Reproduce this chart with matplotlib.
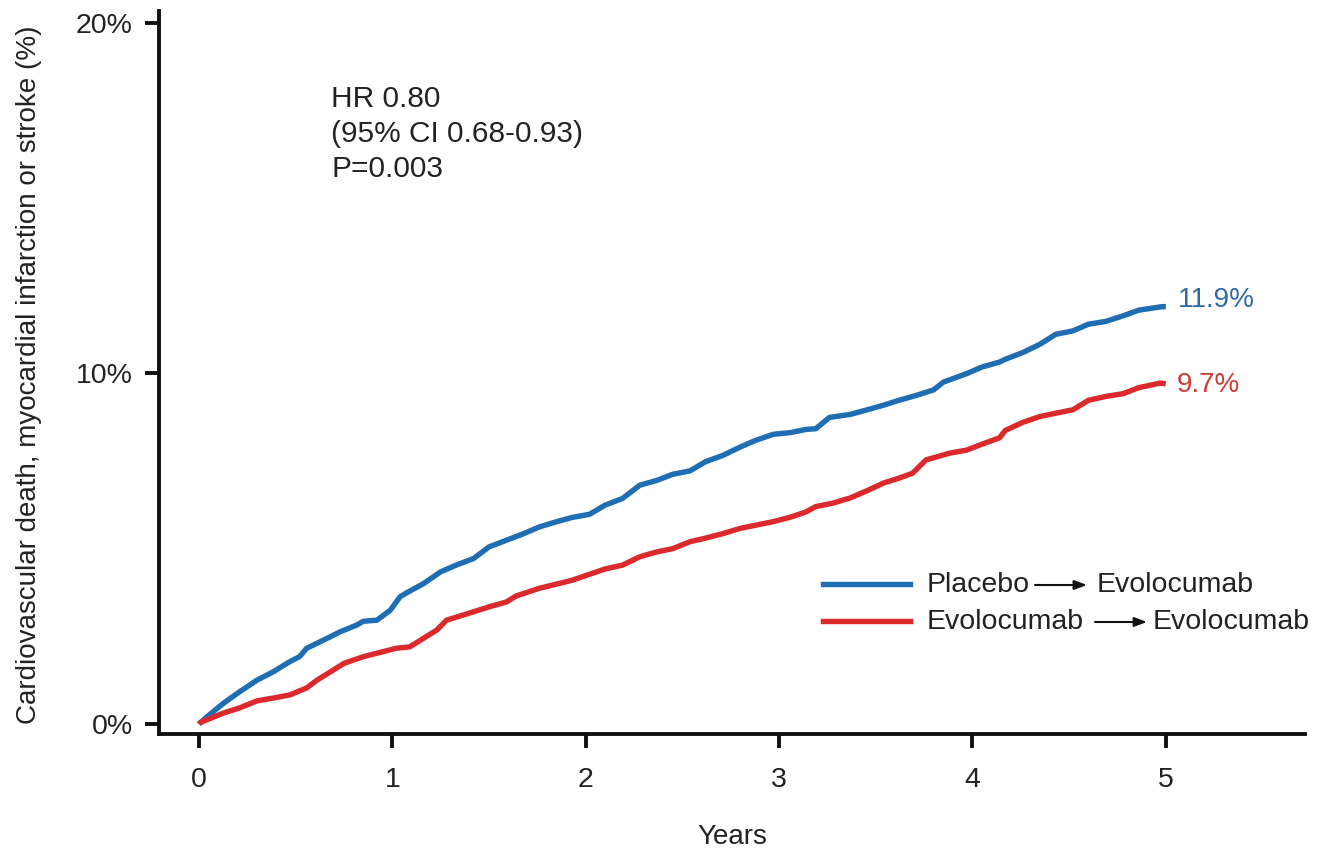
import matplotlib
matplotlib.use("Agg")
import matplotlib.pyplot as plt
from matplotlib.lines import Line2D

plt.rcParams['font.family'] = ['Liberation Sans', 'DejaVu Sans']

# Cumulative incidence (%) by follow-up year
placebo_years = [0.0, 0.04, 0.126, 0.21, 0.30, 0.384, 0.47, 0.52, 0.557, 0.643, 0.73, 0.815, 0.85,
                 0.92, 0.99, 1.04, 1.08, 1.16, 1.25, 1.33, 1.42, 1.50, 1.59, 1.68, 1.76, 1.85,
                 1.93, 2.02, 2.10, 2.19, 2.28, 2.37, 2.45, 2.54, 2.62, 2.71, 2.80, 2.88, 2.97,
                 3.06, 3.14, 3.19, 3.26, 3.37, 3.45, 3.54, 3.62, 3.71, 3.80, 3.85, 3.97, 4.05,
                 4.14, 4.17, 4.26, 4.35, 4.43, 4.52, 4.60, 4.69, 4.78, 4.86, 4.98, 5.0]
placebo_pct = [0.0, 0.2, 0.59, 0.92, 1.25, 1.49, 1.78, 1.92, 2.16, 2.39, 2.63, 2.82, 2.93,
               2.96, 3.25, 3.63, 3.76, 4.0, 4.34, 4.53, 4.72, 5.05, 5.24, 5.43, 5.62, 5.77,
               5.89, 5.98, 6.24, 6.43, 6.81, 6.95, 7.12, 7.22, 7.48, 7.66, 7.9, 8.09, 8.26,
               8.31, 8.4, 8.42, 8.74, 8.83, 8.95, 9.09, 9.23, 9.37, 9.53, 9.75, 9.99, 10.18,
               10.32, 10.4, 10.59, 10.83, 11.11, 11.21, 11.4, 11.48, 11.64, 11.8, 11.9, 11.9]

evolo_years = [0.0, 0.005, 0.125, 0.21, 0.30, 0.384, 0.47, 0.557, 0.61, 0.695, 0.75, 0.85, 0.95,
               1.02, 1.09, 1.16, 1.23, 1.28, 1.42, 1.50, 1.59, 1.64, 1.76, 1.85, 1.93, 2.02,
               2.10, 2.19, 2.28, 2.37, 2.45, 2.54, 2.62, 2.71, 2.80, 2.88, 2.97, 3.06, 3.14,
               3.19, 3.28, 3.37, 3.45, 3.54, 3.62, 3.69, 3.76, 3.88, 3.97, 4.05, 4.14, 4.17,
               4.26, 4.35, 4.43, 4.52, 4.60, 4.69, 4.78, 4.86, 4.97, 5.0]
evolo_pct = [0.0, 0.04, 0.31, 0.46, 0.66, 0.74, 0.83, 1.03, 1.25, 1.54, 1.73, 1.92, 2.06,
             2.16, 2.2, 2.44, 2.68, 2.96, 3.2, 3.34, 3.48, 3.65, 3.87, 3.99, 4.1, 4.27,
             4.42, 4.53, 4.77, 4.91, 5.0, 5.2, 5.3, 5.43, 5.58, 5.67, 5.77, 5.9, 6.05,
             6.2, 6.3, 6.45, 6.64, 6.87, 7.01, 7.15, 7.53, 7.72, 7.81, 7.98, 8.16, 8.37,
             8.6, 8.77, 8.86, 8.96, 9.23, 9.34, 9.42, 9.59, 9.72, 9.7]

final_labels = ["11.9%", "9.7%"]
final_values = [11.9, 9.7]
x_ticks = [0, 1, 2, 3, 4, 5]
y_ticks = [0, 10, 20]
y_ticklabels = ["0%", "10%", "20%"]
stats_lines = ["HR 0.80", "(95% CI 0.68-0.93)", "P=0.003"]

BLUE = "#1f6db3"
RED = "#dc2a2c"
TEXT = "#222222"
W, H = 1319, 851

fig = plt.figure(figsize=(W / 100, H / 100), dpi=100)
ax = fig.add_axes([159 / W, 1 - 734 / H, (1305 - 159) / W, (734 - 11) / H])

ax.plot(placebo_years, placebo_pct, color=BLUE, lw=3.9, solid_capstyle='butt', zorder=3)
ax.plot(evolo_years, evolo_pct, color=RED, lw=3.9, solid_capstyle='butt', zorder=3)

ax.set_xlim(-0.207, 5.72)
ax.set_ylim(-0.285, 20.33)

for s in ['top', 'right']:
    ax.spines[s].set_visible(False)
for s in ['left', 'bottom']:
    ax.spines[s].set_linewidth(2.8)
    ax.spines[s].set_color('#111111')

ax.set_xticks(x_ticks)
ax.set_xticklabels([str(t) for t in x_ticks])
ax.set_yticks(y_ticks)
ax.set_yticklabels(y_ticklabels)
ax.tick_params(axis='both', length=10, width=2.8, color='#111111', labelsize=20.5,
               labelcolor=TEXT)
ax.tick_params(axis='x', pad=14)
ax.tick_params(axis='y', pad=9)

ax.set_xlabel("Years", fontsize=20, color=TEXT, labelpad=22)
ax.set_ylabel("Cardiovascular death, myocardial infarction or stroke (%)",
              fontsize=20, color=TEXT)
ax.yaxis.set_label_coords(-0.102, 0.497)

# Statistics box
for i, line in enumerate(stats_lines):
    ax.text(331 / W, 1 - (99 + 35 * i) / H, line, transform=fig.transFigure,
            fontsize=21.5, color=TEXT, ha='left', va='center')

# Final values at end of follow-up
ax.annotate(final_labels[0], (5.0, final_values[0]), xytext=(9, 5),
            textcoords='offset points', fontsize=20, color="#2f6aa6",
            ha='left', va='center')
ax.annotate(final_labels[1], (5.0, final_values[1]), xytext=(8, -1),
            textcoords='offset points', fontsize=20, color="#d03a35",
            ha='left', va='center')

# Legend drawn by hand: coloured line, label, arrow, label
def fx(px):
    return px / W

def fy(py):
    return 1 - py / H

legend_rows = [
    (BLUE, 585, "Placebo", 927, 1035, 1087, 1097),
    (RED, 622, "Evolocumab", 927, 1095, 1147, 1153),
]
for color, yc, first, x_first, a0, a1, x_second in legend_rows:
    fig.add_artist(Line2D([fx(823), fx(910)], [fy(yc - 1), fy(yc - 1)], color=color, lw=3.9,
                          transform=fig.transFigure))
    fig.text(fx(x_first), fy(yc), first, fontsize=20.5, color=TEXT, ha='left', va='center')
    ax.annotate("", xy=(fx(a1), fy(yc)), xytext=(fx(a0), fy(yc)),
                xycoords='figure fraction', textcoords='figure fraction',
                arrowprops=dict(arrowstyle='-|>,head_length=0.75,head_width=0.28',
                                color='#111111', lw=1.5, shrinkA=0, shrinkB=0))
    fig.text(fx(x_second), fy(yc), "Evolocumab", fontsize=20.5, color=TEXT,
             ha='left', va='center')

fig.savefig("out.png", dpi=100, facecolor='white')
